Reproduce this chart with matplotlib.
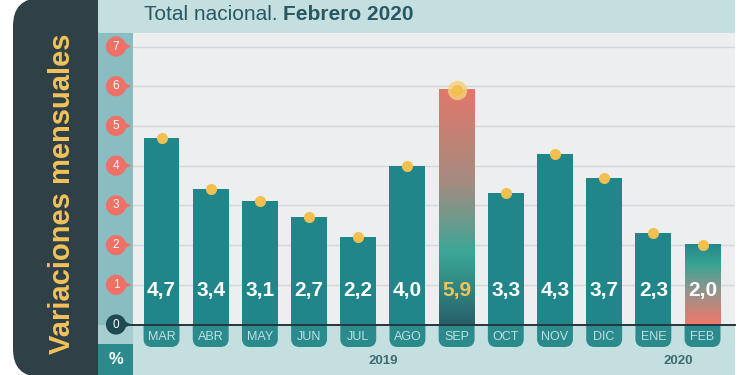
"""
Variaciones mensuales, total nacional. Febrero 2020.
"""
import numpy as np
import matplotlib.pyplot as plt
from matplotlib.patches import FancyBboxPatch, Rectangle
from matplotlib.colors import LinearSegmentedColormap

months = ['MAR', 'ABR', 'MAY', 'JUN', 'JUL', 'AGO', 'SEP', 'OCT', 'NOV', 'DIC', 'ENE', 'FEB']
month_year = ['2019'] * 10 + ['2020'] * 2
values = [4.7, 3.4, 3.1, 2.7, 2.2, 4.0, 5.9, 3.3, 4.3, 3.7, 2.3, 2.0]
yticks = [0, 1, 2, 3, 4, 5, 6, 7]
peak_month = 'SEP'
last_month = 'FEB'

FONT = ['Liberation Sans', 'DejaVu Sans']
TEAL = '#20868a'
DARK = '#2f4146'
HEAD = '#c3dfe0'
W, H = 750, 375


def frac(x0, y0, x1, y1):
    # pixel box (origin top-left) -> figure rect
    return [x0 / W, 1 - y1 / H, (x1 - x0) / W, (y1 - y0) / H]


fig = plt.figure(figsize=(7.5, 3.75), dpi=100)
fig.patch.set_facecolor('white')

# background decoration, in pixel units
bg = fig.add_axes([0, 0, 1, 1], zorder=0)
bg.set_xlim(0, W)
bg.set_ylim(H, 0)
bg.axis('off')
bg.add_patch(FancyBboxPatch((13, -2), 110, 379, boxstyle='round,pad=0,rounding_size=28',
                            fc=DARK, ec='none'))
bg.add_patch(FancyBboxPatch((98, -40), 637, 100, boxstyle='round,pad=0,rounding_size=30',
                            fc=HEAD, ec='none'))
bg.add_patch(Rectangle((98, 33), 35, 292, fc='#89bdc1', ec='none'))
bg.add_patch(Rectangle((98, 325), 35, 19, fc='#a6cecf', ec='none'))
bg.add_patch(Rectangle((98, 344), 35, 31, fc='#2b8a8c', ec='none'))
bg.text(116, 359, '%', color='white', fontsize=12, fontweight='bold', family=FONT,
        ha='center', va='center')
bg.text(62, 194, 'Variaciones mensuales', rotation=90, color='#f2c35c', fontsize=21,
        fontweight='bold', family=FONT, ha='center', va='center')
t1 = bg.text(144, 14, 'Total nacional. ', color='#2b5763', fontsize=15, family=FONT,
             va='center', ha='left')
bg.annotate('Febrero 2020', xy=(1, 0), xycoords=t1, va='bottom', ha='left',
            color='#2b5763', fontsize=15, fontweight='bold', family=FONT)

# main plot
ax = fig.add_axes(frac(133, 33, 735, 324.5), zorder=2)
ax.set_facecolor('#eceeef')
x = np.arange(len(months))
xlim = (-0.58, 11.66)
ylim = (0, 7.34)
ax.set_xlim(*xlim)
ax.set_ylim(*ylim)
for s in ax.spines.values():
    s.set_visible(False)
ax.set_yticks(yticks[1:])
ax.set_xticks([])
ax.tick_params(length=0, labelleft=False)
ax.grid(axis='y', color='#d4d7d9', lw=1)
ax.set_axisbelow(True)

bw = 0.73
i_peak = months.index(peak_month)
i_last = months.index(last_month)
colors = [TEAL] * len(months)
colors[i_peak] = 'none'
colors[i_last] = 'none'
ax.bar(x, values, width=bw, color=colors, zorder=3)

grad_peak = LinearSegmentedColormap.from_list(
    'peak', [(0, '#27626a'), (0.3, '#3aa797'), (0.6, '#a48c80'), (1, '#e2776b')])
grad_last = LinearSegmentedColormap.from_list(
    'last', [(0, '#ef786c'), (0.45, '#8a978d'), (0.75, '#38a394'), (1, '#24878a')])
for i, cm in [(i_peak, grad_peak), (i_last, grad_last)]:
    g = np.linspace(0, 1, 256).reshape(-1, 1)
    ax.imshow(g, cmap=cm, origin='lower', aspect='auto', zorder=3,
              extent=[x[i] - bw / 2, x[i] + bw / 2, 0, values[i]])
ax.set_xlim(*xlim)
ax.set_ylim(*ylim)

ax.axhline(0, color='#24363c', lw=1.4, zorder=5, clip_on=False)

for i, v in enumerate(values):
    lab = f'{v:.1f}'.replace('.', ',')
    ax.text(x[i], 0.86, lab, ha='center', va='center', fontsize=15, fontweight='bold',
            family=FONT, color='#f2c35c' if i == i_peak else 'white', zorder=6)

ax.scatter([x[i_peak]], [values[i_peak]], s=14 ** 2, color='#f7d27a', alpha=0.8,
           zorder=6, clip_on=False, lw=0)
ax.scatter(x, values, s=8 ** 2, color='#f1c050', zorder=7, clip_on=False, lw=0)

# y axis pins
sa = fig.add_axes(frac(98, 33, 133, 324.5), zorder=3)
sa.set_xlim(98, 133)
sa.set_ylim(*ylim)
sa.axis('off')
sa.plot([116, 133], [0, 0], color='#24363c', lw=1.4, clip_on=False)
pin_colors = ['#1f4954'] + ['#ef7067'] * (len(yticks) - 1)
sa.scatter([123.5] * len(yticks), yticks, marker='>', s=11 ** 2, c=pin_colors,
           clip_on=False, lw=0, zorder=3)
sa.scatter([116] * len(yticks), yticks, marker='o', s=14.5 ** 2, c=pin_colors,
           clip_on=False, lw=0, zorder=4)
for t in yticks:
    sa.text(116, t, str(t), ha='center', va='center', color='white', fontsize=8.5,
            family=FONT, zorder=5)

# month tabs and years
ppu = (735 - 133) / (xlim[1] - xlim[0])
ax2 = fig.add_axes(frac(133, 324.5, 735, 375), zorder=1)
ax2.set_facecolor(HEAD)
ax2.set_xlim(*xlim)
ax2.set_ylim(50.5 / ppu, 0)
ax2.axis('off')
ax2.add_patch(Rectangle((xlim[0], 0), xlim[1] - xlim[0], 50.5 / ppu, fc=HEAD, ec='none'))
for i, m in enumerate(months):
    ax2.add_patch(FancyBboxPatch((x[i] - bw / 2, -0.3), bw, 0.3 + 22.5 / ppu,
                                 boxstyle='round,pad=0,rounding_size=0.17',
                                 fc='#2b8a8c', ec='none'))
    ax2.text(x[i], 12.5 / ppu, m, ha='center', va='center', color='#bfe0e0',
             fontsize=9, family=FONT)
for yr in sorted(set(month_year)):
    xs = [x[i] for i, y in enumerate(month_year) if y == yr]
    ax2.text(np.mean(xs), 37 / ppu, yr, ha='center', va='center', color='#3e6a72',
             fontsize=9.5, fontweight='bold', family=FONT)

fig.savefig('out.png', dpi=100)
